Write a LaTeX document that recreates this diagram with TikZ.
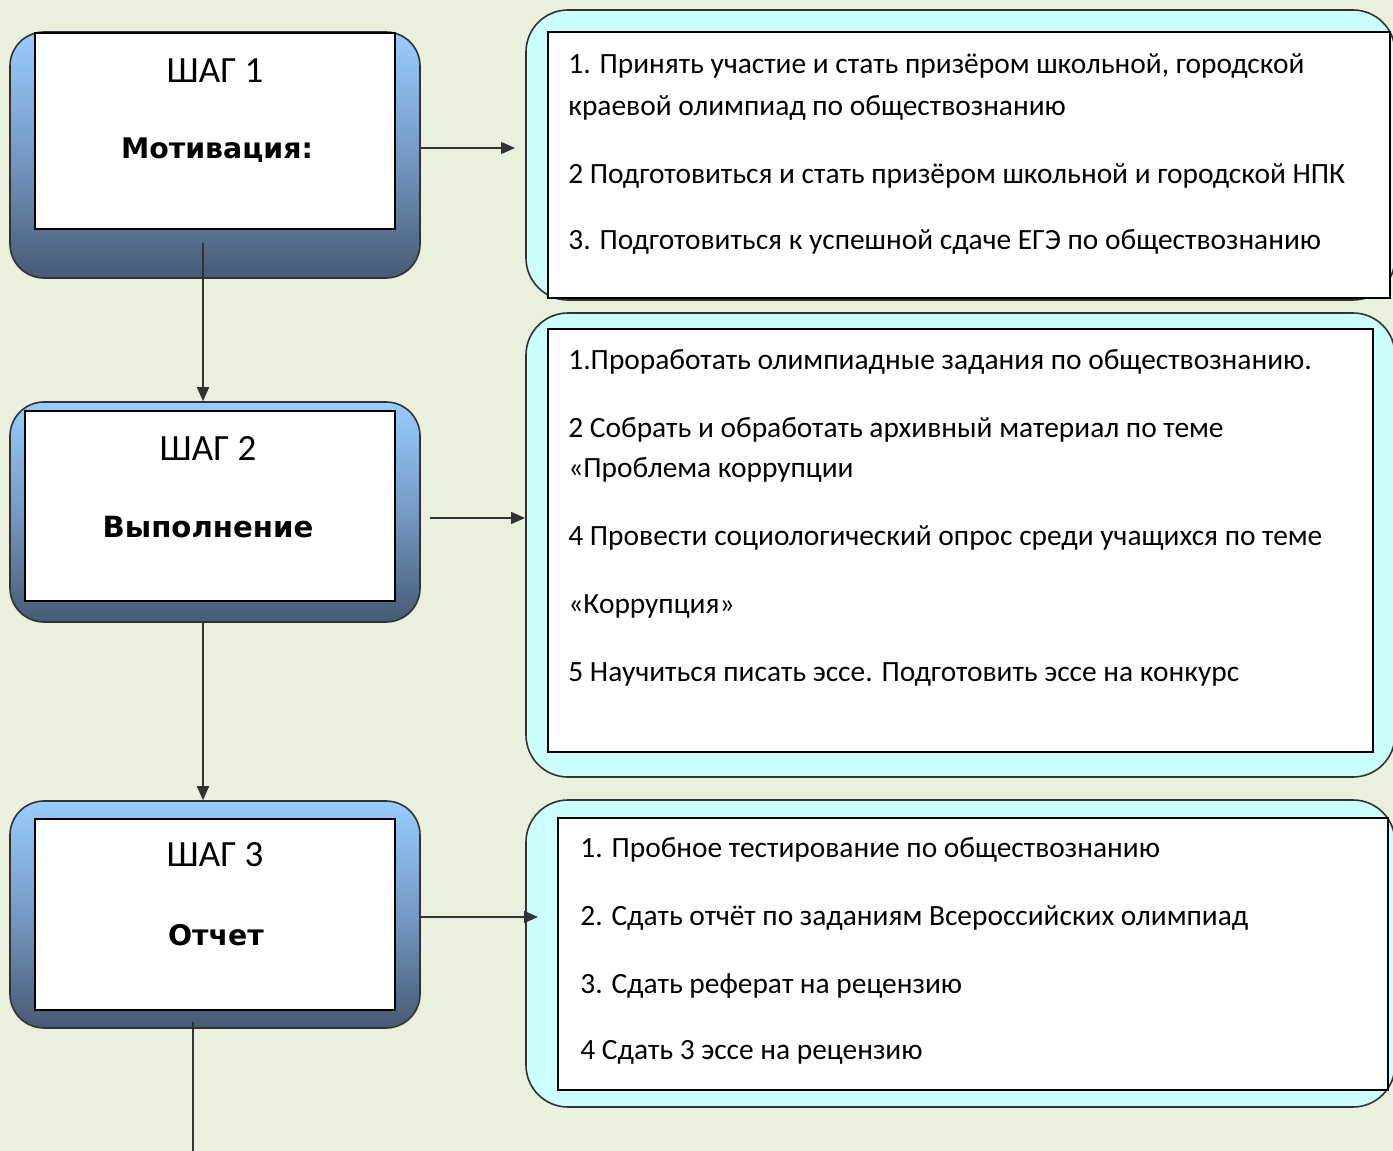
\documentclass[tikz,border=0pt]{standalone}
\usepackage{fontspec}
\setmainfont{Carlito}
\newfontfamily\dvsans{DejaVu Sans}
\usetikzlibrary{arrows.meta}
\definecolor{bgc}{RGB}{233,240,221}
\definecolor{topblue}{RGB}{153,204,255}
\definecolor{midblue}{RGB}{118,154,196}
\definecolor{botblue}{RGB}{70,90,116}
\definecolor{cyanfill}{RGB}{204,255,255}
\definecolor{edge}{RGB}{50,50,50}
\tikzset{
  stepouter/.style={draw=edge, line width=0.8pt, rounded corners=17pt,
    top color=topblue, bottom color=botblue, middle color=midblue,
    minimum width=205pt, inner sep=0pt},
  stepinner/.style={draw=black, line width=0.9pt, fill=white, inner sep=0pt},
  listouter/.style={draw=edge, line width=0.8pt, rounded corners=21pt, fill=cyanfill,
    minimum width=434.5pt, inner sep=0pt},
  listinner/.style={draw=black, line width=0.9pt, fill=white, inner sep=0pt},
  steptitle/.style={anchor=base, inner sep=0pt, font=\fontsize{18.5}{20}\selectfont},
  stepname/.style={anchor=base, inner sep=0pt},
  item/.style={anchor=base west, inner sep=0pt, font=\fontsize{14.7}{17}\selectfont},
  arr/.style={draw=edge, line width=0.8pt, -{Triangle[length=7pt,width=6pt]}},
  ln/.style={draw=edge, line width=0.8pt}
}
\begin{document}
\begin{tikzpicture}[x=0.5pt,y=-0.5pt]
\fill[bgc] (0,0) rectangle (1393,1151);
\useasboundingbox (0,0) rectangle (1393,1151);

% left step boxes
\node[stepouter, minimum height=123pt] (o1) at (215,155) {};
\node[stepinner, minimum width=180pt, minimum height=98pt] (i1) at (215,131) {};
\node[stepouter, minimum height=110pt] (o2) at (215,512) {};
\node[stepinner, minimum width=185pt, minimum height=95pt] (i2) at (210,506) {};
\node[stepouter, minimum height=113.5pt] (o3) at (215,914.5) {};
\node[stepinner, minimum width=180pt, minimum height=95.5pt] (i3) at (215,914.5) {};

\node[steptitle] (t1) at (215,82) {ШАГ 1};
\node[stepname, font=\dvsans\bfseries\fontsize{14.2}{17}\selectfont] (n1) at (217,158) {Мотивация:};
\node[steptitle] (t2) at (208,460) {ШАГ 2};
\node[stepname, font=\dvsans\bfseries\fontsize{14.6}{17}\selectfont] (n2) at (208,537) {Выполнение};
\node[steptitle] (t3) at (215,866) {ШАГ 3};
\node[stepname, font=\dvsans\bfseries\fontsize{14.2}{17}\selectfont] (n3) at (216,945) {Отчет};

% right list boxes
\node[listouter, minimum height=145pt] (r1) at (960.5,155) {};
\node[listinner, minimum width=421pt, minimum height=133pt] (ri1) at (969,165) {};
\node[listouter, minimum height=232pt] (r2) at (960.5,545) {};
\node[listinner, minimum width=412.5pt, minimum height=211.5pt] (ri2) at (960.5,540.5) {};
\node[listouter, minimum height=153.5pt] (r3) at (960.5,953.5) {};
\node[listinner, minimum width=415pt, minimum height=136pt] (ri3) at (973,954) {};

% texts
\node[item] (a1) at (568,73) {1. Принять участие и стать призёром школьной, городской};
\node[item] (a2) at (568,115) {краевой олимпиад по  обществознанию};
\node[item] (a3) at (568,183) {2 Подготовиться и стать призёром школьной и городской НПК};
\node[item] (a4) at (568,249) {3. Подготовиться к успешной сдаче ЕГЭ по обществознанию};

\node[item] (b1) at (568,369) {1.Проработать олимпиадные задания по  обществознанию.};
\node[item] (b2) at (568,437) {2 Собрать и обработать архивный материал по теме};
\node[item] (b3) at (568,477) {«Проблема коррупции};
\node[item] (b4) at (568,545) {4 Провести социологический  опрос среди учащихся по теме};
\node[item] (b5) at (568,613) {«Коррупция»};
\node[item] (b6) at (568,681) {5 Научиться писать эссе. Подготовить эссе на конкурс};

\node[item] (c1) at (580,857) {1. Пробное тестирование по обществознанию};
\node[item] (c2) at (580,925) {2. Сдать  отчёт по заданиям Всероссийских олимпиад};
\node[item] (c3) at (580,993) {3. Сдать реферат на рецензию};
\node[item] (c4) at (580,1059) {4 Сдать 3 эссе на рецензию};

% connectors
\coordinate (v1) at (203,243);
\coordinate (v2) at (203,622);
\coordinate (v3) at (193,1022);
\coordinate (vend) at (193,1151);
\draw[arr] (v1) -- (v1 |- o2.north);
\draw[arr] (v2) -- (v2 |- o3.north);
\draw[ln] (v3) -- (vend);

\coordinate (h1) at (515,148);
\coordinate (h2s) at (430,518);
\coordinate (h2) at (525,518);
\coordinate (h3) at (538,917);
\draw[arr] (o1.east |- h1) -- (h1);
\draw[arr] (h2s) -- (h2);
\draw[arr] (o3.east |- h3) -- (h3);
\end{tikzpicture}
\end{document}
